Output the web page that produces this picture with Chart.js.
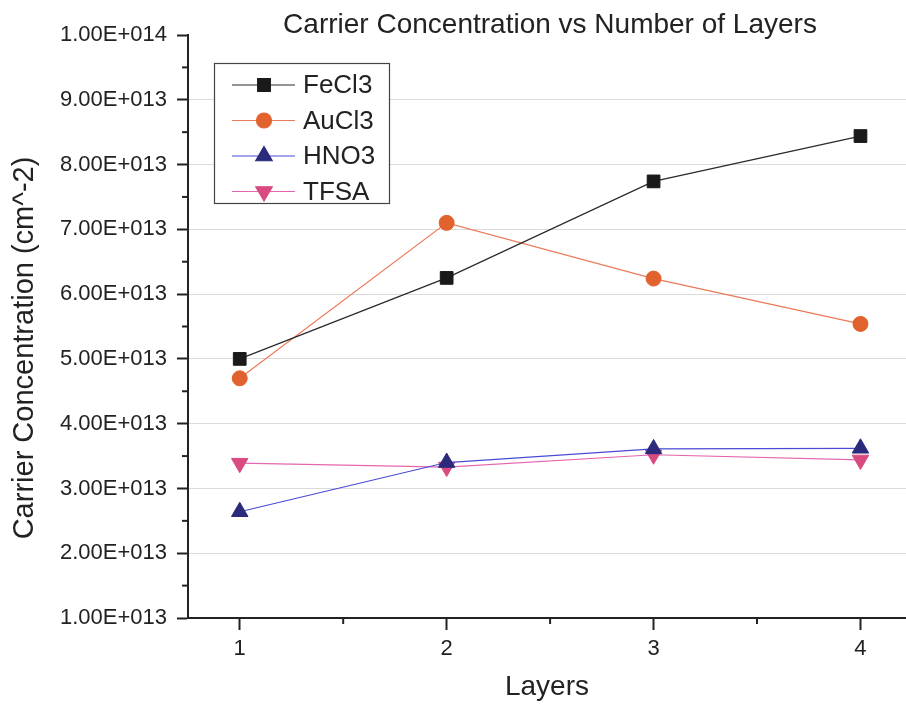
<!DOCTYPE html>
<html>
<head>
<meta charset="utf-8">
<script src="https://cdn.jsdelivr.net/npm/chart.js@4.4.1/dist/chart.umd.min.js"></script>
<style>
  html, body { margin: 0; padding: 0; background: #fff; }
  #wrap { width: 906px; height: 704px; }
</style>
</head>
<body>
<div id="wrap"><canvas id="chart" width="906" height="704"></canvas></div>
<script>
// data
const layers = [1, 2, 3, 4];
const fecl3 = [5.00e13, 6.25e13, 7.74e13, 8.44e13];
const aucl3 = [4.70e13, 7.10e13, 6.24e13, 5.54e13];
const hno3 = [2.64e13, 3.40e13, 3.61e13, 3.62e13];
const tfsa = [3.39e13, 3.33e13, 3.52e13, 3.44e13];
const seriesNames = ["FeCl3", "AuCl3", "HNO3", "TFSA"];
const yTicks = [1e13, 2e13, 3e13, 4e13, 5e13, 6e13, 7e13, 8e13, 9e13, 1e14];
const xTicks = [1, 2, 3, 4];

const FONT = "'Liberation Sans', Arial, sans-serif";
const toXY = (arr) => arr.map((v, i) => ({ x: layers[i], y: v }));

// 1.00E+014 style labels
function sciLabel(v) {
  const s = Number(v).toExponential(2).toUpperCase();
  return s.replace(/E([+-])(\d+)/, (m, sign, d) => "E" + sign + d.padStart(3, "0"));
}

// minor ticks, legend box, titles
const extrasPlugin = {
  id: "extras",
  afterDraw(chart) {
    const ctx = chart.ctx;
    const area = chart.chartArea;
    const xs = chart.scales.x;
    const ys = chart.scales.y;
    ctx.save();

    // minor ticks
    ctx.strokeStyle = "#222";
    ctx.lineWidth = 2;
    for (let i = 0; i < yTicks.length - 1; i++) {
      const y = ys.getPixelForValue((yTicks[i] + yTicks[i + 1]) / 2);
      ctx.beginPath();
      ctx.moveTo(area.left - 6, y);
      ctx.lineTo(area.left, y);
      ctx.stroke();
    }
    for (let i = 0; i < xTicks.length - 1; i++) {
      const x = xs.getPixelForValue((xTicks[i] + xTicks[i + 1]) / 2);
      ctx.beginPath();
      ctx.moveTo(x, area.bottom);
      ctx.lineTo(x, area.bottom + 6);
      ctx.stroke();
    }

    // legend
    const bx = area.left + 26, by = area.top + 28, bw = 175, bh = 140;
    ctx.fillStyle = "#fff";
    ctx.fillRect(bx, by, bw, bh);
    ctx.strokeStyle = "#444";
    ctx.lineWidth = 1.2;
    ctx.strokeRect(bx + 0.5, by + 0.5, bw, bh);
    ctx.font = "26px " + FONT;
    ctx.textBaseline = "middle";
    ctx.textAlign = "left";
    chart.data.datasets.forEach((ds, i) => {
      const ry = by + 22 + i * 35.5;
      ctx.strokeStyle = ds.borderColor;
      ctx.lineWidth = 1.2;
      ctx.beginPath();
      ctx.moveTo(bx + 18, ry);
      ctx.lineTo(bx + 81, ry);
      ctx.stroke();
      ctx.fillStyle = ds.pointBackgroundColor;
      ctx.strokeStyle = ds.pointBackgroundColor;
      Chart.helpers.drawPoint(ctx, {
        pointStyle: ds.pointStyle,
        radius: ds.pointRadius,
        rotation: ds.pointRotation || 0,
        borderWidth: 1
      }, bx + 50, ry);
      ctx.fillStyle = "#222";
      ctx.fillText(ds.label, bx + 89, ry + 1);
    });

    // chart title
    ctx.fillStyle = "#222";
    ctx.font = "28px " + FONT;
    ctx.textAlign = "center";
    ctx.fillText("Carrier Concentration vs Number of Layers", (area.left + area.right) / 2 + 3, 25);

    // y title
    ctx.font = "29px " + FONT;
    ctx.translate(25, 348);
    ctx.rotate(-Math.PI / 2);
    ctx.fillText("Carrier Concentration (cm^-2)", 0, 0);
    ctx.restore();
  }
};

const ctx = document.getElementById("chart").getContext("2d");
new Chart(ctx, {
  type: "line",
  data: {
    datasets: [
      {
        label: seriesNames[0],
        data: toXY(fecl3),
        borderColor: "#2a2a2a",
        pointBackgroundColor: "#1a1a1a",
        pointBorderColor: "#1a1a1a",
        pointStyle: "rect",
        pointRadius: 9
      },
      {
        label: seriesNames[1],
        data: toXY(aucl3),
        borderColor: "#ea7a58",
        pointBackgroundColor: "#e2622e",
        pointBorderColor: "#e2622e",
        pointStyle: "circle",
        pointRadius: 7.5
      },
      {
        label: seriesNames[2],
        data: toXY(hno3),
        borderColor: "#4a4ad4",
        pointBackgroundColor: "#2b2a7c",
        pointBorderColor: "#2b2a7c",
        pointStyle: "triangle",
        pointRadius: 9.5
      },
      {
        label: seriesNames[3],
        data: toXY(tfsa),
        borderColor: "#e466ac",
        pointBackgroundColor: "#d84a80",
        pointBorderColor: "#d84a80",
        pointStyle: "triangle",
        pointRotation: 180,
        pointRadius: 9.5
      }
    ]
  },
  options: {
    responsive: false,
    animation: false,
    layout: { autoPadding: false, padding: { top: 35, left: 0, right: 0, bottom: 0 } },
    elements: {
      line: { borderWidth: 1.2, tension: 0 },
      point: { borderWidth: 1 }
    },
    plugins: {
      legend: { display: false },
      title: { display: false },
      tooltip: { enabled: false }
    },
    scales: {
      x: {
        type: "linear",
        min: 0.75,
        max: 4.22,
        afterBuildTicks: (scale) => {
          scale.ticks = xTicks.map((v) => ({ value: v }));
        },
        afterFit: (scale) => { scale.height = 86; },
        border: { color: "#222", width: 2 },
        grid: {
          drawOnChartArea: false,
          tickLength: 12,
          tickColor: "#222",
          tickWidth: 2
        },
        ticks: {
          color: "#222",
          padding: 6,
          maxRotation: 0,
          font: { family: FONT, size: 22 },
          callback: (v) => String(v)
        },
        title: {
          display: true,
          text: "Layers",
          color: "#222",
          padding: { top: 0, bottom: 0 },
          font: { family: FONT, size: 28 }
        }
      },
      y: {
        type: "linear",
        min: yTicks[0],
        max: yTicks[yTicks.length - 1],
        afterBuildTicks: (scale) => {
          scale.ticks = yTicks.map((v) => ({ value: v }));
        },
        afterFit: (scale) => { scale.width = 188; },
        border: { color: "#222", width: 2 },
        grid: {
          color: (c) => (c.tick && (c.tick.value === yTicks[0] || c.tick.value === yTicks[yTicks.length - 1]) ? "rgba(0,0,0,0)" : "#dadada"),
          lineWidth: 1,
          borderDash: [3, 3],
          tickBorderDash: [],
          tickLength: 11,
          tickColor: "#222",
          tickWidth: 2
        },
        ticks: {
          color: "#222",
          padding: 10,
          font: { family: FONT, size: 22 },
          callback: (v) => sciLabel(v)
        }
      }
    }
  },
  plugins: [extrasPlugin]
});
</script>
</body>
</html>
